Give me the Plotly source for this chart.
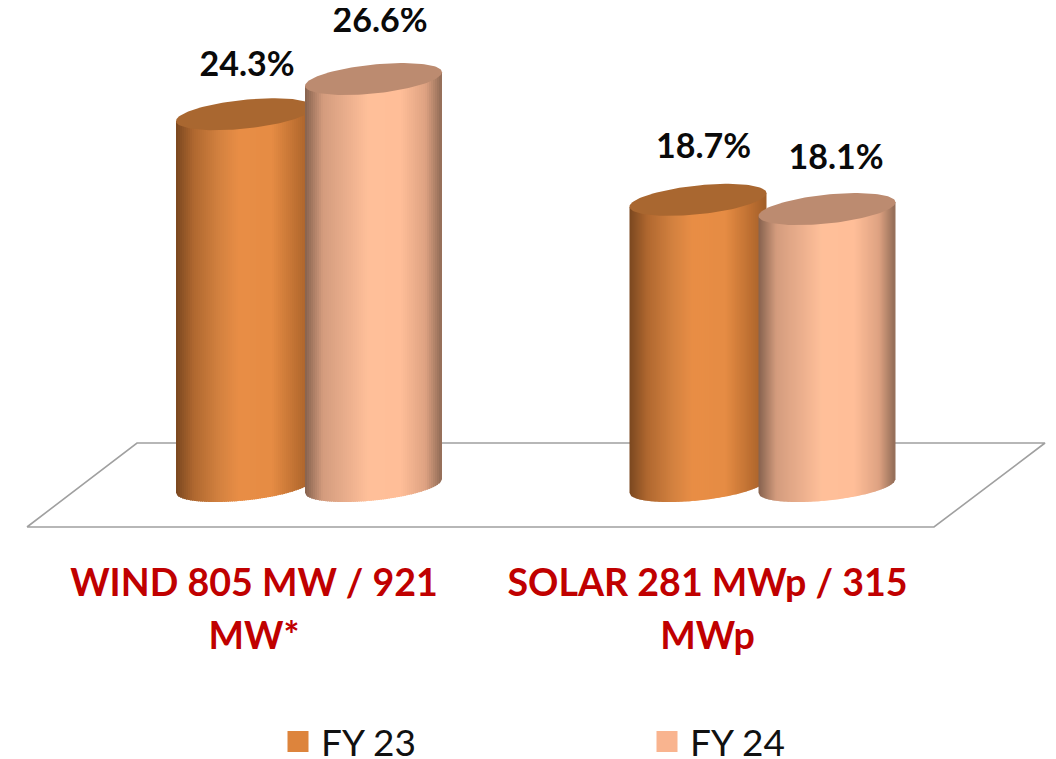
import numpy as np
import plotly.graph_objects as go

# ---- data ----
categories = ["WIND 805 MW / 921<br>MW*", "SOLAR 281 MWp / 315<br>MWp"]
series_names = ["FY 23", "FY 24"]
fy23 = [24.3, 18.7]
fy24 = [26.6, 18.1]

# ---- style ----
PAGE_MARGIN = 8        # the page's body margin; figure sits this far in
W, H = 1056 - PAGE_MARGIN, 759 - PAGE_MARGIN
PX_X = 453.5           # pixels per category step
PX_Y = 15.3            # pixels per percentage point
CAT0_PX = 254.0 - PAGE_MARGIN
BASE_PX = 486.0 - PAGE_MARGIN
PLOT_BOTTOM = 554 - PAGE_MARGIN
RADIUS = 68.5
SLOPE = -0.1
MINOR = 14.5
series_offset = [-9.5, 119.5]
legend_colors = ["#DD843C", "#F9B48F"]
legend_x_px = [275 - PAGE_MARGIN, 644 - PAGE_MARGIN]
legend_y_px = 711 - PAGE_MARGIN
cap_colors = ["#A96730", "#BC8B70"]
grad_pos = [0.0, 0.13, 0.32, 0.46, 0.70, 0.88, 1.0]
grad_cols = [
    [(122, 72, 32), (176, 104, 48), (212, 130, 64), (233, 142, 70), (230, 140, 68), (190, 112, 50), (160, 94, 42)],
    [(134, 98, 78), (212, 156, 126), (236, 176, 142), (255, 192, 154), (255, 190, 152), (222, 162, 130), (142, 106, 85)],
]
label_dx = [[2.5, 5.5], [6.5, 9.0]]
label_dy = [[47, 50], [56, 49]]
floor_px_x = [27, 137, 1045, 934, 27]
floor_px_y = [527, 443, 443, 527, 527]
LABEL_RED = "#C00000"
FONT = "Lato, Carlito, Calibri, sans-serif"


def px_x(dx):
    return np.asarray(dx) / PX_X


def px_y(dy):
    # dy: pixels downward -> value units
    return -np.asarray(dy) / PX_Y


fig = go.Figure()

# floor of the 3-D chart
fl_x = (np.array(floor_px_x) - PAGE_MARGIN - CAT0_PX) / PX_X
fl_y = (BASE_PX - (np.array(floor_px_y) - PAGE_MARGIN)) / PX_Y
fig.add_trace(go.Scatter(x=fl_x, y=fl_y, mode="lines", line=dict(color="#A0A0A0", width=1.6),
                         showlegend=False, hoverinfo="skip"))


def cylinder(cat, s_idx, value):
    cx = cat + px_x(series_offset[s_idx])
    edges = np.arange(-RADIUS, RADIUS + 0.01, 2.0)
    cols = np.array(grad_cols[s_idx], dtype=float)
    for i in range(len(edges) - 1):
        d0 = edges[i]
        d1 = min(edges[i] + 3.0, RADIUS)
        f = ((d0 + 1) + RADIUS) / (2 * RADIUS)
        rgb = [int(np.interp(f, grad_pos, cols[:, k])) for k in range(3)]
        dd = np.linspace(d0, d1, 3)
        low = SLOPE * dd + MINOR * np.sqrt(np.clip(1 - (dd / RADIUS) ** 2, 0, 1))
        top = SLOPE * dd
        xs = np.concatenate([cx + px_x(dd), cx + px_x(dd[::-1]), [cx + px_x(dd[0])]])
        ys = np.concatenate([px_y(low), value + px_y(top[::-1]), [px_y(low[0])]])
        fig.add_trace(go.Scatter(x=xs, y=ys, mode="lines", fill="toself",
                                 fillcolor=f"rgb({rgb[0]},{rgb[1]},{rgb[2]})",
                                 line=dict(width=0), showlegend=False, hoverinfo="skip"))
    t = np.linspace(0, 2 * np.pi, 120)
    dx = RADIUS * np.cos(t)
    dy = MINOR * np.sin(t) + SLOPE * dx
    fig.add_trace(go.Scatter(x=cx + px_x(dx), y=value + px_y(dy), mode="lines", fill="toself",
                             fillcolor=cap_colors[s_idx], line=dict(width=0),
                             showlegend=False, hoverinfo="skip"))


series_vals = [fy23, fy24]
for c in range(len(categories)):
    for s in range(len(series_names)):
        cylinder(c, s, series_vals[s][c])

# value labels
for s in range(2):
    for c in range(2):
        v = series_vals[s][c]
        fig.add_trace(go.Scatter(
            x=[c + px_x(series_offset[s] + label_dx[s][c])], y=[v + label_dy[s][c] / PX_Y],
            mode="text", text=[f"{v:.1f}%"], textposition="middle center", cliponaxis=False,
            textfont=dict(family=FONT, size=34, color="#0A0A0A", weight="bold"),
            showlegend=False, hoverinfo="skip"))

# legend entries
for i, (name, col) in enumerate(zip(series_names, legend_colors)):
    fig.add_trace(go.Scatter(x=[None], y=[None], mode="markers", name=name,
                             legend="legend" if i == 0 else "legend2",
                             marker=dict(symbol="square", size=18, color=col,
                                         line=dict(color=col, width=5))))

tick_text = [
    "<br>".join(f'<span style="font-size:37.6px">{part}</span>' for part in c.split("<br>"))
    for c in categories
]


def legend_box(x_px):
    return dict(x=x_px / W, xanchor="left", y=-(legend_y_px - PLOT_BOTTOM) / PLOT_BOTTOM, yanchor="top",
                itemwidth=36, font=dict(family=FONT, size=37, color="#111111"),
                bgcolor="rgba(0,0,0,0)")


fig.update_layout(
    width=W, height=H, autosize=False,
    margin=dict(l=0, r=0, t=0, b=H - PLOT_BOTTOM, pad=0, autoexpand=False),
    paper_bgcolor="white", plot_bgcolor="white",
    font=dict(family=FONT, color="#111111"),
    xaxis=dict(range=[(0 - CAT0_PX) / PX_X, (W - CAT0_PX) / PX_X], tickmode="array",
               tickvals=[0, 1], ticktext=tick_text, showgrid=False, zeroline=False,
               showline=False, ticks="", ticklen=0, automargin=False,
               tickfont=dict(family=FONT, size=41, color=LABEL_RED, weight="bold")),
    yaxis=dict(range=[(BASE_PX - PLOT_BOTTOM) / PX_Y, BASE_PX / PX_Y], visible=False),
    showlegend=True,
    legend=legend_box(legend_x_px[0]),
    legend2=legend_box(legend_x_px[1]),
)

fig.write_html("out.html")
